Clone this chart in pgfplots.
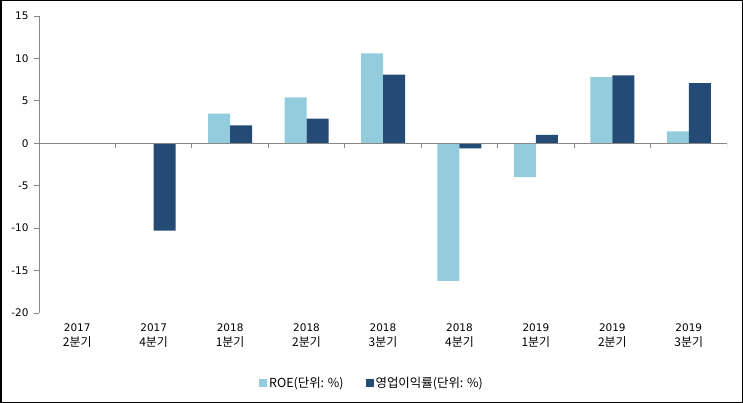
\documentclass[border=0pt]{standalone}
\usepackage{pgfplots}
\pgfplotsset{compat=1.18}
\usepackage{fontspec}
\setmainfont{DejaVu Sans}
\newfontfamily\kr{Noto Sans CJK KR}
\definecolor{roe}{HTML}{93CDDD}
\definecolor{opm}{HTML}{234B76}
\definecolor{axgray}{HTML}{888888}

\begin{document}
\begin{tikzpicture}
\useasboundingbox (0,0) rectangle (743bp,403bp);
\draw[black, line width=1.5bp] (0.75bp,0.75bp) rectangle (742.25bp,402.25bp);
\begin{axis}[
  at={(39bp,90bp)}, anchor=south west,
  scale only axis, width=688bp, height=297bp,
  xmin=-0.5, xmax=8.5, ymin=-20, ymax=15,
  axis y line=left, axis x line=bottom,
  x axis line style={draw=none},
  y axis line style={axgray, line width=0.8bp, -},
  ytick={-20,-15,...,15},
  y tick style={axgray, line width=0.8bp},
  major tick length=5bp, tick align=outside,
  xtick={0,...,8},
  x tick style={draw=none},
  xticklabels={{2017\\{\kr\fontsize{12}{14}\selectfont 2분기}},{2017\\{\kr\fontsize{12}{14}\selectfont 4분기}},{2018\\{\kr\fontsize{12}{14}\selectfont 1분기}},{2018\\{\kr\fontsize{12}{14}\selectfont 2분기}},{2018\\{\kr\fontsize{12}{14}\selectfont 3분기}},{2018\\{\kr\fontsize{12}{14}\selectfont 4분기}},{2019\\{\kr\fontsize{12}{14}\selectfont 1분기}},{2019\\{\kr\fontsize{12}{14}\selectfont 2분기}},{2019\\{\kr\fontsize{12}{14}\selectfont 3분기}}},
  xticklabel style={align=center, font=\fontsize{10.5}{15}\selectfont, yshift=-2bp},
  yticklabel style={font=\fontsize{10.5}{12}\selectfont, xshift=-2bp},
  /pgf/number format/assume math mode=true,
  ybar, bar width=22bp,
  legend style={at={(0.484,-0.235)}, anchor=center, draw=none,
    legend columns=2, font=\kr\fontsize{12.5}{14}\selectfont,
    /tikz/every even column/.append style={column sep=20bp},
    inner sep=0pt},
]
\addplot[fill=roe, draw=none, bar shift=-11bp,
  legend image code/.code={\fill[roe] (0bp,-4bp) rectangle (8bp,4bp);}]
  coordinates {(0,0) (1,0) (2,3.5) (3,5.4) (4,10.6) (5,-16.2) (6,-4.0) (7,7.8) (8,1.4)};
\addplot[fill=opm, draw=none, bar shift=11bp,
  legend image code/.code={\fill[opm] (0bp,-4bp) rectangle (8bp,4bp);}]
  coordinates {(0,0) (1,-10.3) (2,2.1) (3,2.9) (4,8.1) (5,-0.6) (6,1.0) (7,8.0) (8,7.1)};
\legend{ROE(단위: \%), 영업이익률(단위: \%)}
\draw[axgray, line width=0.8bp] (axis cs:-0.5,0) -- (axis cs:8.5,0);
\pgfplotsinvokeforeach{0.5,1.5,2.5,3.5,4.5,5.5,6.5,7.5,8.5}{
  \draw[axgray, line width=0.8bp] (axis cs:#1,0) -- (axis cs:#1,-0.59);
}
\end{axis}
\end{tikzpicture}
\end{document}
